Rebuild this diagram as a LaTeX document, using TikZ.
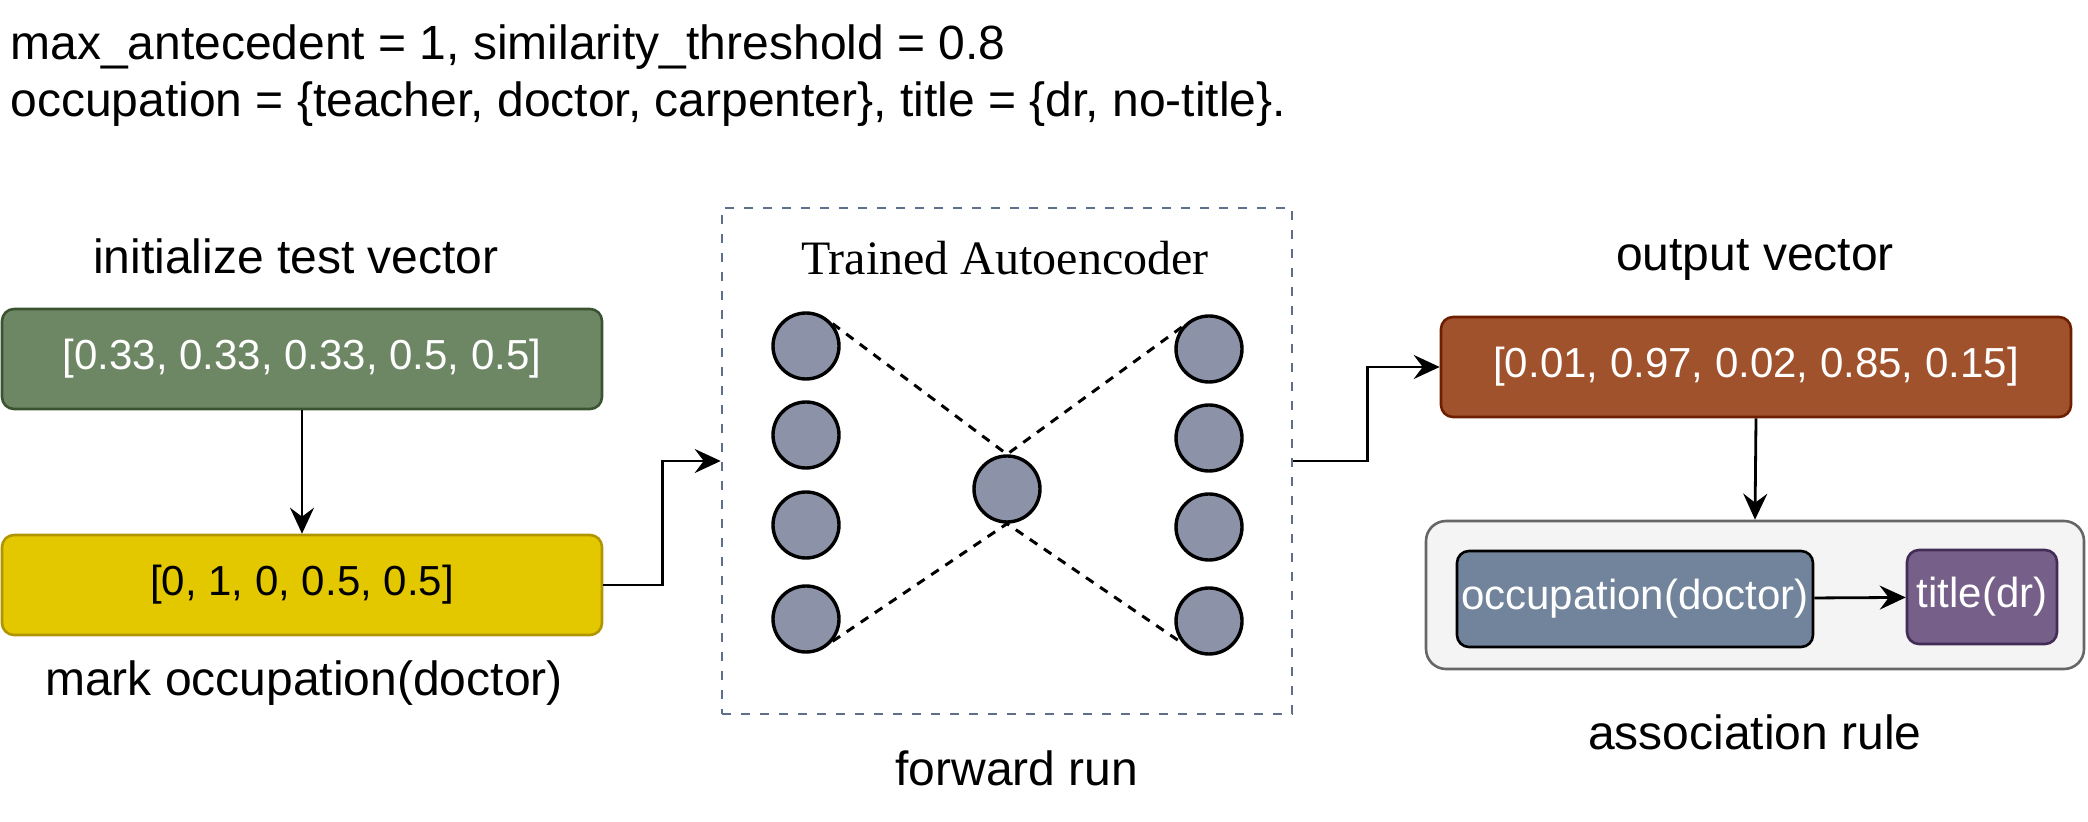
\documentclass[tikz,border=0pt]{standalone}
\usepackage{fontspec}
\setmainfont{Liberation Sans}
\newfontfamily\titleserif{Liberation Serif}
\usetikzlibrary{arrows.meta}

\definecolor{initfill}{HTML}{6D8764}
\definecolor{initline}{HTML}{3A5431}
\definecolor{markfill}{HTML}{E3C800}
\definecolor{markline}{HTML}{B09500}
\definecolor{outfill}{HTML}{A0522D}
\definecolor{outline}{HTML}{6D1F00}
\definecolor{rulefill}{HTML}{F4F4F4}
\definecolor{ruleline}{HTML}{666666}
\definecolor{occfill}{HTML}{71849C}
\definecolor{ttlfill}{HTML}{76608A}
\definecolor{ttlline}{HTML}{432D57}
\definecolor{aeline}{HTML}{5F6F8A}
\definecolor{neuronfill}{HTML}{8C93A8}

\begin{document}
\begin{tikzpicture}[x=0.5pt,y=-0.5pt,
            inner sep=0pt,
            caption/.style = {font=\fontsize{24}{29}\selectfont},
            vecbox/.style = {draw, rounded corners=6pt, line width=1.3pt,
                             minimum width=300pt, minimum height=50pt,
                             font=\fontsize{21}{25}\selectfont},
            neuron/.style = {draw, circle, fill=neuronfill, line width=1.7pt, minimum size=33pt},
            link/.style = {line width=1.5pt, dash pattern=on 4.5pt off 4pt},
            flow/.style = {-{Stealth[length=13pt,width=12pt,inset=4.5pt]}, line width=1.4pt},
            ]

            \useasboundingbox (0,0) rectangle (2088,822);

            % settings
            \node[caption, anchor=base west] (params) at (10,60) {max\_antecedent = 1, similarity\_threshold = 0.8};
            \node[caption, anchor=base west] (domains) at (10,117) {occupation = \{teacher, doctor, carpenter\}, title = \{dr, no-title\}.};

            % test vector
            \node[caption] (initlabel) at (296,256) {initialize test vector};
            \node[vecbox, fill=initfill, draw=initline, text=white] (init) at (302,359) {[0.33, 0.33, 0.33, 0.5, 0.5]};
            \node[vecbox, fill=markfill, draw=markline] (mark) at (302,585) {[0, 1, 0, 0.5, 0.5]};
            \node[caption] (marklabel) at (304,683) {mark occupation(doctor)};

            % autoencoder
            \node[draw=aeline, line width=1.3pt, dash pattern=on 4.3pt off 5.2pt,
                  minimum width=285pt, minimum height=253pt] (ae) at (1007,461) {};
            \node[font=\titleserif\fontsize{24}{29}\selectfont] (aetitle) at (1005,258) {Trained Autoencoder};
            \node[neuron] (in1) at (806,346) {};
            \node[neuron] (in2) at (806,435) {};
            \node[neuron] (in3) at (806,525) {};
            \node[neuron] (in4) at (806,619) {};
            \node[neuron] (code) at (1007,489) {};
            \node[neuron] (out1) at (1209,349) {};
            \node[neuron] (out2) at (1209,438) {};
            \node[neuron] (out3) at (1209,527) {};
            \node[neuron] (out4) at (1209,621) {};
            \draw[link] (in1.40) -- (code.north) -- (out1.140);
            \draw[link] (in4.-40) -- (code.south) -- (out4.-140);
            \node[caption] (aelabel) at (1017,768) {forward run};

            % output
            \node[caption] (outlabel) at (1755,260) {output vector};
            \node[vecbox, fill=outfill, draw=outline, text=white, minimum width=315pt] (out) at (1756,367) {[0.01, 0.97, 0.02, 0.85, 0.15]};

            % rule
            \node[draw=ruleline, fill=rulefill, line width=1.3pt, rounded corners=10pt,
                  minimum width=329pt, minimum height=74pt] (rule) at (1755,595) {};
            \node[vecbox, fill=occfill, draw=black, text=white, minimum width=178pt, minimum height=48pt] (occ) at (1635,599) {occupation(doctor)};
            \node[vecbox, fill=ttlfill, draw=ttlline, text=white, minimum width=75pt, minimum height=47pt] (ttl) at (1982,597) {title(dr)};
            \node[caption] (rulelabel) at (1755,732) {association rule};

            \draw[flow] (init) -- (mark);
            \draw[flow] (mark.east) -- ++(59,0) |- (ae.west);
            \draw[flow] (ae.east) -- ++(74,0) |- (out.west);
            \draw[flow] (out.south) -- (rule.north);
            \draw[flow] (occ) -- (ttl);
\end{tikzpicture}
\end{document}
